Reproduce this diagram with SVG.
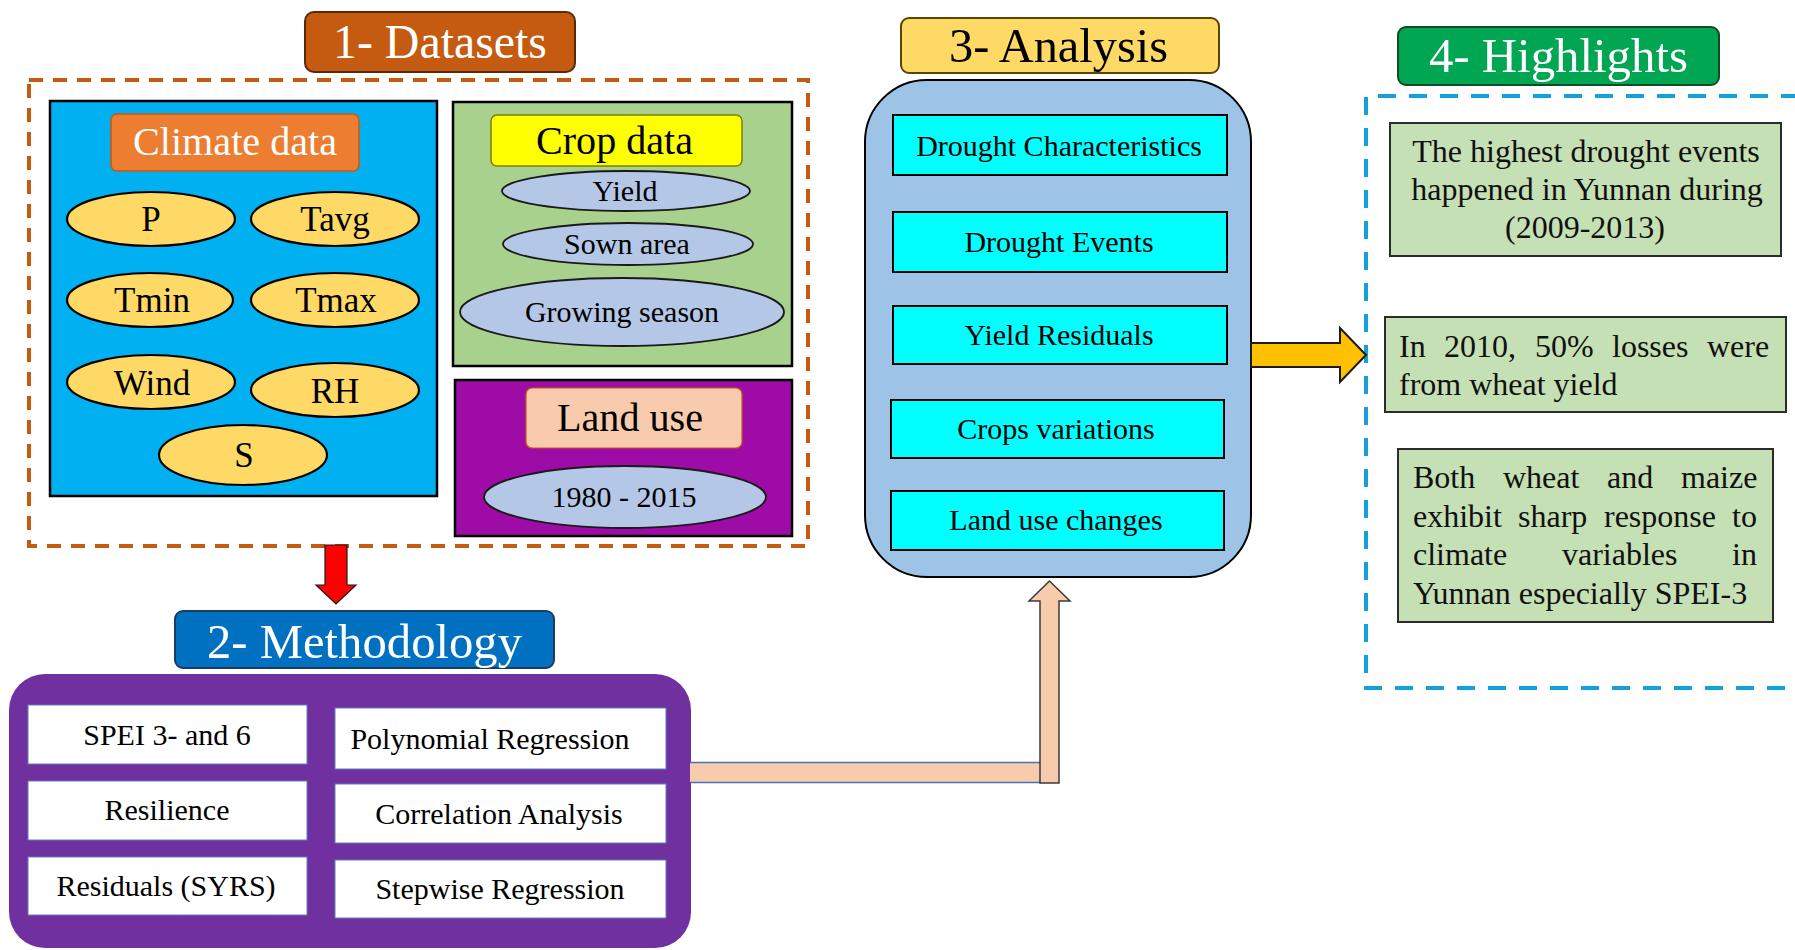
<svg xmlns="http://www.w3.org/2000/svg" width="1795" height="950" viewBox="0 0 1795 950">
<defs>
<style>
text{font-family:"Liberation Serif","Times New Roman",serif;fill:#000}
.w{fill:#fff}
.title{font-size:48px}
.sub{font-size:40px}
.ey{font-size:35px}
.el{font-size:30px}
.cy{font-size:30px}
.mt{font-size:30px}
.hl{font-size:32px;fill:#111}
.ell-y{fill:#FFD966;stroke:#000;stroke-width:2.2}
.ell-b{fill:#B4C7E7;stroke:#1a1a1a;stroke-width:1.8}
.cyan{fill:#00FFFF;stroke:#000;stroke-width:2}
.wbox{fill:#fff;stroke:#5B7FB8;stroke-width:1}
.hbox{fill:#C5E0B4;stroke:#2b2b2b;stroke-width:2}
</style>
</defs>
<rect x="0" y="0" width="1795" height="950" fill="#fff"/>

<!-- 1 Datasets -->
<g id="datasets-title">
<rect x="305" y="12" width="270" height="60" rx="9" fill="#C55A11" stroke="#5a2a08" stroke-width="2"/>
<text class="title w" x="333" y="58" textLength="214" lengthAdjust="spacingAndGlyphs">1- Datasets</text>
</g>
<g id="datasets-frame">
<rect x="29" y="80" width="779" height="466" fill="none" stroke="#C55A11" stroke-width="4" stroke-dasharray="14 10"/>
</g>
<g id="climate-data">
<rect x="50" y="101" width="387" height="395" fill="#00B0F0" stroke="#000" stroke-width="2.5"/>
<rect x="111" y="114" width="248" height="57" rx="6" fill="#ED7D31" stroke="#C55A11" stroke-width="1.5"/>
<text class="sub w" x="133" y="155" textLength="204" lengthAdjust="spacingAndGlyphs">Climate data</text>
</g>
<g id="node-P"><ellipse class="ell-y" cx="151" cy="219" rx="84" ry="27"/><text class="ey" text-anchor="middle" x="151" y="231">P</text></g>
<g id="node-Tavg"><ellipse class="ell-y" cx="335" cy="219" rx="84" ry="27"/><text class="ey" text-anchor="middle" x="335" y="231">Tavg</text></g>
<g id="node-Tmin"><ellipse class="ell-y" cx="150" cy="300" rx="83" ry="27"/><text class="ey" text-anchor="middle" x="152" y="312">Tmin</text></g>
<g id="node-Tmax"><ellipse class="ell-y" cx="335" cy="300" rx="84" ry="27"/><text class="ey" text-anchor="middle" x="336" y="312">Tmax</text></g>
<g id="node-Wind"><ellipse class="ell-y" cx="151" cy="382" rx="84" ry="27"/><text class="ey" text-anchor="middle" x="152" y="395">Wind</text></g>
<g id="node-RH"><ellipse class="ell-y" cx="335" cy="390" rx="84" ry="27"/><text class="ey" text-anchor="middle" x="335" y="403">RH</text></g>
<g id="node-S"><ellipse class="ell-y" cx="243" cy="455" rx="84" ry="30"/><text class="ey" text-anchor="middle" x="244" y="467">S</text></g>

<g id="crop-data">
<rect x="453" y="102" width="339" height="264" fill="#A9D18E" stroke="#000" stroke-width="2.5"/>
<rect x="491" y="115" width="251" height="51" rx="6" fill="#FFFF00" stroke="#7F7F00" stroke-width="1.5"/>
<text class="sub" x="536" y="154" textLength="157" lengthAdjust="spacingAndGlyphs">Crop data</text>
</g>
<g id="node-yield"><ellipse class="ell-b" cx="626" cy="191" rx="124" ry="20"/><text class="el" text-anchor="middle" x="625" y="201">Yield</text></g>
<g id="node-sown"><ellipse class="ell-b" cx="628" cy="244" rx="125" ry="21"/><text class="el" text-anchor="middle" x="627" y="254">Sown area</text></g>
<g id="node-growing"><ellipse class="ell-b" cx="622" cy="312" rx="162" ry="34"/><text class="el" text-anchor="middle" x="622" y="322">Growing season</text></g>

<g id="land-use">
<rect x="455" y="380" width="337" height="156" fill="#9E0BA6" stroke="#000" stroke-width="2.5"/>
<rect x="526" y="388" width="216" height="60" rx="6" fill="#F8CBAD" stroke="#C55A11" stroke-width="1.2"/>
<text class="sub" x="557" y="431" textLength="146" lengthAdjust="spacingAndGlyphs">Land use</text>
</g>
<g id="node-years"><ellipse class="ell-b" cx="625" cy="497" rx="141" ry="31"/><text class="el" text-anchor="middle" x="624" y="507">1980 - 2015</text></g>

<!-- 2 Methodology -->
<g id="methodology-title">
<rect x="175" y="611" width="379" height="57" rx="8" fill="#0070C0" stroke="#1F3A5F" stroke-width="2"/>
<text class="title w" x="207" y="658" textLength="315" lengthAdjust="spacingAndGlyphs">2- Methodology</text>
</g>
<g id="methodology">
<rect x="9" y="674" width="682" height="274" rx="36" fill="#7030A0"/>
</g>
<g id="m-spei"><rect class="wbox" x="28" y="705" width="279" height="59"/><text class="mt" text-anchor="middle" x="167" y="745">SPEI 3- and 6</text></g>
<g id="m-resilience"><rect class="wbox" x="28" y="781" width="279" height="59"/><text class="mt" text-anchor="middle" x="167" y="820">Resilience</text></g>
<g id="m-residuals"><rect class="wbox" x="28" y="857" width="279" height="58"/><text class="mt" text-anchor="middle" x="166" y="896">Residuals (SYRS)</text></g>
<g id="m-poly"><rect class="wbox" x="335" y="708" width="331" height="61"/><text class="mt" text-anchor="middle" x="490" y="749">Polynomial Regression</text></g>
<g id="m-corr"><rect class="wbox" x="335" y="784" width="331" height="59"/><text class="mt" text-anchor="middle" x="499" y="824">Correlation Analysis</text></g>
<g id="m-step"><rect class="wbox" x="335" y="860" width="331" height="58"/><text class="mt" text-anchor="middle" x="500" y="899">Stepwise Regression</text></g>

<!-- 3 Analysis -->
<g id="analysis-title">
<rect x="901" y="18" width="318" height="55" rx="8" fill="#FFD966" stroke="#5a4500" stroke-width="2"/>
<text class="title" x="949" y="62" textLength="219" lengthAdjust="spacingAndGlyphs">3- Analysis</text>
</g>
<g id="analysis">
<rect x="865" y="80" width="386" height="497" rx="62" fill="#9DC3E6" stroke="#000" stroke-width="2"/>
</g>
<g id="a-char"><rect class="cyan" x="893" y="115" width="334" height="60"/><text class="cy" text-anchor="middle" x="1059" y="156">Drought Characteristics</text></g>
<g id="a-events"><rect class="cyan" x="893" y="212" width="334" height="60"/><text class="cy" text-anchor="middle" x="1059" y="252">Drought Events</text></g>
<g id="a-yield"><rect class="cyan" x="893" y="306" width="334" height="58"/><text class="cy" text-anchor="middle" x="1059" y="345">Yield Residuals</text></g>
<g id="a-crops"><rect class="cyan" x="891" y="400" width="333" height="58"/><text class="cy" text-anchor="middle" x="1056" y="439">Crops variations</text></g>
<g id="a-land"><rect class="cyan" x="891" y="491" width="333" height="59"/><text class="cy" text-anchor="middle" x="1056" y="530">Land use changes</text></g>

<!-- 4 Highlights -->
<g id="highlights-title">
<rect x="1398" y="27" width="321" height="58" rx="8" fill="#00A651" stroke="#0B4E26" stroke-width="2"/>
<text class="title w" x="1429" y="72" textLength="259" lengthAdjust="spacingAndGlyphs">4- Highlights</text>
</g>
<g id="highlights-frame">
<path d="M1830 96 H1366 V688 H1830" fill="none" stroke="#14A0DC" stroke-width="4" stroke-dasharray="18 13"/>
</g>
<g id="h1">
<rect class="hbox" x="1390" y="123" width="391" height="133"/>
<text class="hl" text-anchor="middle" x="1586" y="162">The highest drought events</text>
<text class="hl" text-anchor="middle" x="1587" y="200">happened in Yunnan during</text>
<text class="hl" text-anchor="middle" x="1585" y="238">(2009-2013)</text>
</g>
<g id="h2">
<rect class="hbox" x="1385" y="317" width="401" height="95"/>
<text class="hl" y="357"><tspan x="1399">In</tspan><tspan x="1444">2010,</tspan><tspan x="1535">50%</tspan><tspan x="1612">losses</tspan><tspan x="1707">were</tspan></text>
<text class="hl" x="1399" y="395">from wheat yield</text>
</g>
<g id="h3">
<rect class="hbox" x="1398" y="449" width="375" height="173"/>
<text class="hl" y="488"><tspan x="1413">Both</tspan><tspan x="1503">wheat</tspan><tspan x="1607">and</tspan><tspan x="1681">maize</tspan></text>
<text class="hl" y="527"><tspan x="1413">exhibit</tspan><tspan x="1518">sharp</tspan><tspan x="1604">response</tspan><tspan x="1732">to</tspan></text>
<text class="hl" y="565"><tspan x="1413">climate</tspan><tspan x="1562">variables</tspan><tspan x="1732">in</tspan></text>
<text class="hl" x="1413" y="604">Yunnan especially SPEI-3</text>
</g>

<!-- connectors -->
<g id="connectors">
<polygon points="325,545 347,545 347,585 356,585 336,604 316,585 325,585" fill="#FF0000" stroke="#1a1a1a" stroke-width="1.2"/>
<rect x="690" y="762" width="360" height="21" fill="#F8CBAD"/>
<line x1="690" y1="762.5" x2="1041" y2="762.5" stroke="#4472C4" stroke-width="1.5"/>
<line x1="690" y1="782.5" x2="1041" y2="782.5" stroke="#4472C4" stroke-width="1.5"/>
<polygon points="1040,783 1040,601 1029,601 1049.5,581 1070,601 1059,601 1059,783" fill="#F8CBAD" stroke="#3a3a3a" stroke-width="1.5"/>
<polygon points="1251,343 1340,343 1340,328 1366,355 1340,382 1340,367 1251,367" fill="#FFC000" stroke="#1a1a1a" stroke-width="2"/>
</g>
</svg>
